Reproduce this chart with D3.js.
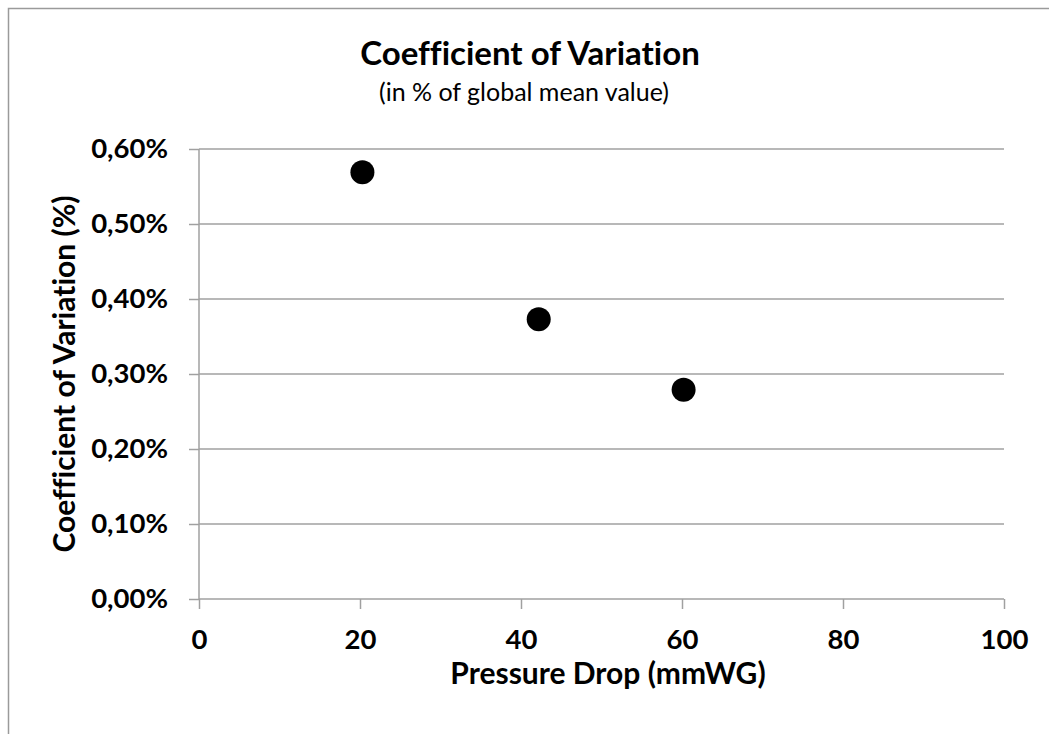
<!DOCTYPE html>
<html>
<head>
<meta charset="utf-8">
<script src="https://cdn.jsdelivr.net/npm/d3@7"></script>
<style>
body{margin:0;background:#fff;}
svg{display:block;font-family:Lato,"Open Sans",sans-serif;}
text{font-variant-ligatures:no-common-ligatures;}
</style>
</head>
<body>
<svg id="chart"></svg>
<script>
var pressureDrop=[20.3,42.2,60.2];
var coefVar=[0.569,0.373,0.279];
var xTicks=[0,20,40,60,80,100];
var yTicks=[0,0.1,0.2,0.3,0.4,0.5,0.6];

var w=1049;
var h=734;
var margin={
  top:149,
  bottom:135,
  left:199,
  right:45
}

var svg=d3.select("#chart")
          .attr("width",w)
          .attr("height",h);

// outer frame, only top and left visible in the crop
svg.append("path")
   .attr("d","M8.5,"+h+"V8.5H"+w)
   .attr("fill","none")
   .attr("stroke","#9a9a9a")
   .attr("stroke-width",1.5);

var xScale=d3.scaleLinear()
             .domain([0,100])
             .range([margin.left,w-margin.right]);
var yScale=d3.scaleLinear()
             .domain([0,0.6])
             .range([h-margin.bottom,margin.top]);

// gridlines
svg.append("g")
   .selectAll("line")
   .data(yTicks.slice(1))
   .enter()
   .append("line")
   .attr("x1",margin.left)
   .attr("x2",w-margin.right)
   .attr("y1",function(d){return yScale(d);})
   .attr("y2",function(d){return yScale(d);})
   .attr("stroke","#a0a0a0")
   .attr("stroke-width",1.5);

var fmt=function(d){
  return d3.format(".2f")(d).replace(".",",")+"%";
}

var xAxis=d3.axisBottom(xScale)
            .tickValues(xTicks)
            .tickSize(10)
            .tickPadding(12)
            .tickSizeOuter(0);
var yAxis=d3.axisLeft(yScale)
            .tickValues(yTicks)
            .tickSize(10)
            .tickPadding(21)
            .tickFormat(fmt);

var gx=svg.append("g")
   .attr("transform","translate(0,"+(h-margin.bottom)+")")
   .call(xAxis);
var gy=svg.append("g")
   .attr("transform","translate("+margin.left+",0)")
   .call(yAxis);

[gx,gy].forEach(function(g){
  g.selectAll("path,line")
   .attr("stroke","#a0a0a0")
   .attr("stroke-width",1.5);
  g.selectAll("text")
   .attr("fill","#000")
   .attr("font-size",27.5)
   .attr("font-weight","bold")
   .attr("font-family","Lato,sans-serif");
});
gx.select(".domain").attr("d","M"+margin.left+",0H"+(w-margin.right));
gx.selectAll("text").attr("dy",28);
gy.select(".domain").attr("d","M0,"+(h-margin.bottom)+"V"+margin.top);

// points
svg.append("g")
   .selectAll("circle")
   .data(pressureDrop)
   .enter()
   .append("circle")
   .attr("cx",function(d){return xScale(d);})
   .attr("cy",function(d,i){return yScale(coefVar[i]);})
   .attr("r",12)
   .attr("fill","#000");

// titles
svg.append("text")
   .attr("x",530)
   .attr("y",65)
   .attr("text-anchor","middle")
   .attr("font-size",33)
   .attr("font-weight","bold")
   .text("Coefficient of Variation");
svg.append("text")
   .attr("x",524)
   .attr("y",101)
   .attr("text-anchor","middle")
   .attr("font-size",25)
   .text("(in % of global mean value)");
svg.append("text")
   .attr("x",608)
   .attr("y",684)
   .attr("text-anchor","middle")
   .attr("font-size",30)
   .attr("font-weight","bold")
   .text("Pressure Drop (mmWG)");
svg.append("text")
   .attr("transform","translate(75,374) rotate(-90)")
   .attr("text-anchor","middle")
   .attr("font-size",30)
   .attr("font-weight","bold")
   .text("Coefficient of Variation (%)");
</script>
</body>
</html>
